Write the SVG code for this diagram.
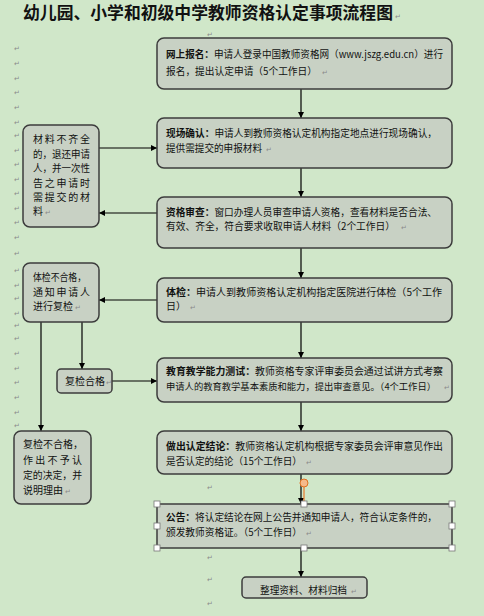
<svg xmlns="http://www.w3.org/2000/svg" width="484" height="616" viewBox="0 0 484 616">
<defs>
<marker id="arr" viewBox="0 0 10 10" refX="10" refY="5" markerWidth="6" markerHeight="6" markerUnits="userSpaceOnUse" orient="auto"><path d="M0,0 L10,5 L0,10 z" fill="#000"/></marker>
<style>
.box{fill:#C8D1C4;stroke:#3c3c3c;stroke-width:1.5}
.t{font-family:"Noto Sans CJK SC","Liberation Sans",sans-serif;font-size:10px;fill:#111}
.b{font-weight:bold}
.pm{font-family:"DejaVu Sans",sans-serif;font-size:7px;fill:#8a8a8a}
.ln{stroke:#000;stroke-width:1.2;fill:none}
.h{fill:#fff;stroke:#777;stroke-width:0.8}
</style>
</defs>
<rect width="484" height="616" fill="#D0E7C9"/>
<text x="23" y="19" font-family="'Noto Sans CJK SC',sans-serif" font-size="16.5" font-weight="bold" fill="#111" textLength="370" lengthAdjust="spacingAndGlyphs">幼儿园、小学和初级中学教师资格认定事项流程图</text>
<text x="395" y="19" class="pm">↵</text>
<g id="margin-marks" class="pm">
<text x="14" y="51">↵</text><text x="14" y="66">↵</text><text x="14" y="81">↵</text><text x="14" y="95">↵</text><text x="14" y="110">↵</text><text x="14" y="125">↵</text><text x="14" y="138">↵</text><text x="14" y="153">↵</text><text x="14" y="167">↵</text><text x="14" y="182">↵</text><text x="14" y="196">↵</text><text x="14" y="211">↵</text><text x="14" y="225">↵</text><text x="14" y="240">↵</text><text x="14" y="256">↵</text><text x="14" y="273">↵</text><text x="14" y="288">↵</text><text x="14" y="301">↵</text><text x="14" y="316">↵</text><text x="14" y="328">↵</text><text x="14" y="341">↵</text><text x="14" y="356">↵</text><text x="14" y="371">↵</text><text x="14" y="385">↵</text><text x="14" y="400">↵</text><text x="14" y="415">↵</text><text x="14" y="428">↵</text><text x="14" y="443">↵</text>
<text x="207" y="37">↵</text><text x="207" y="490">↵</text><text x="207" y="560">↵</text><text x="207" y="582">↵</text><text x="207" y="606">↵</text>
</g>
<g id="connectors">
<line class="ln" x1="301" y1="89" x2="301" y2="118" marker-end="url(#arr)"/>
<line class="ln" x1="301" y1="168" x2="301" y2="197" marker-end="url(#arr)"/>
<line class="ln" x1="301" y1="248" x2="301" y2="278" marker-end="url(#arr)"/>
<line class="ln" x1="301" y1="322" x2="301" y2="358" marker-end="url(#arr)"/>
<line class="ln" x1="301" y1="402" x2="301" y2="431" marker-end="url(#arr)"/>
<line class="ln" x1="301" y1="474" x2="301" y2="504" marker-end="url(#arr)"/>
<line class="ln" x1="301" y1="548" x2="301" y2="577" marker-end="url(#arr)"/>
<line class="ln" x1="99" y1="148" x2="157" y2="148" marker-end="url(#arr)"/>
<line class="ln" x1="157" y1="213" x2="99" y2="213" marker-end="url(#arr)"/>
<line class="ln" x1="157" y1="300" x2="99" y2="300" marker-end="url(#arr)"/>
<line class="ln" x1="82" y1="322" x2="82" y2="369" marker-end="url(#arr)"/>
<line class="ln" x1="112" y1="381" x2="157" y2="381" marker-end="url(#arr)"/>
<line class="ln" x1="41" y1="322" x2="41" y2="431" marker-end="url(#arr)"/>
</g>
<g id="n1">
<rect class="box" x="157" y="38" width="295" height="51" rx="7"/>
<text class="t" x="166" y="58" textLength="277" lengthAdjust="spacingAndGlyphs"><tspan class="b">网上报名：</tspan>申请人登录中国教师资格网（www.jszg.edu.cn）进行</text>
<text class="t" x="166" y="75" textLength="151" lengthAdjust="spacingAndGlyphs">报名，提出认定申请（5个工作日）</text>
<text class="pm" x="322" y="75">↵</text>
</g>
<g id="n2">
<rect class="box" x="157" y="118" width="295" height="50" rx="7"/>
<text class="t" x="166" y="137" textLength="271" lengthAdjust="spacingAndGlyphs"><tspan class="b">现场确认：</tspan>申请人到教师资格认定机构指定地点进行现场确认，</text>
<text class="t" x="166" y="152" textLength="96" lengthAdjust="spacingAndGlyphs">提供需提交的申报材料</text>
<text class="pm" x="266" y="152">↵</text>
</g>
<g id="n3">
<rect class="box" x="157" y="197" width="295" height="51" rx="7"/>
<text class="t" x="166" y="216" textLength="271" lengthAdjust="spacingAndGlyphs"><tspan class="b">资格审查：</tspan>窗口办理人员审查申请人资格，查看材料是否合法、</text>
<text class="t" x="166" y="230" textLength="229" lengthAdjust="spacingAndGlyphs">有效、齐全，符合要求收取申请人材料（2个工作日）</text>
<text class="pm" x="401" y="230">↵</text>
</g>
<g id="n4">
<rect class="box" x="157" y="278" width="295" height="44" rx="7"/>
<text class="t" x="166" y="296" textLength="276" lengthAdjust="spacingAndGlyphs"><tspan class="b">体检：</tspan>申请人到教师资格认定机构指定医院进行体检（5个工作</text>
<text class="t" x="166" y="310">日）</text>
<text class="pm" x="190" y="310">↵</text>
</g>
<g id="n5">
<rect class="box" x="157" y="358" width="295" height="44" rx="7"/>
<text class="t" x="166" y="375" textLength="277" lengthAdjust="spacingAndGlyphs"><tspan class="b">教育教学能力测试：</tspan>教师资格专家评审委员会通过试讲方式考察</text>
<text class="t" x="166" y="390" font-size="9.2" textLength="270" lengthAdjust="spacingAndGlyphs" style="font-size:9.2px">申请人的教育教学基本素质和能力，提出审查意见。（4个工作日）</text>
<text class="pm" x="444" y="390">↵</text>
</g>
<g id="n6">
<rect class="box" x="157" y="431" width="295" height="43" rx="7"/>
<text class="t" x="166" y="450" textLength="277" lengthAdjust="spacingAndGlyphs"><tspan class="b">做出认定结论：</tspan>教师资格认定机构根据专家委员会评审意见作出</text>
<text class="t" x="166" y="465" textLength="136" lengthAdjust="spacingAndGlyphs">是否认定的结论（15个工作日）</text>
<text class="pm" x="306" y="465">↵</text>
</g>
<g id="n7">
<rect class="box" x="157" y="504" width="295" height="44" rx="3"/>
<text class="t" x="166" y="521" textLength="271" lengthAdjust="spacingAndGlyphs"><tspan class="b">公告：</tspan>将认定结论在网上公告并通知申请人，符合认定条件的，</text>
<text class="t" x="166" y="536" textLength="136" lengthAdjust="spacingAndGlyphs">颁发教师资格证。（5个工作日）</text>
<text class="pm" x="306" y="536">↵</text>
<line x1="304" y1="487" x2="304" y2="501" stroke="#E8782A" stroke-width="1.2"/>
<circle cx="304" cy="483" r="4" fill="#F6B98A" stroke="#E07020" stroke-width="1"/>
<rect class="h" x="154" y="501" width="6" height="6"/><rect class="h" x="301" y="501" width="6" height="6"/><rect class="h" x="449" y="501" width="6" height="6"/>
<rect class="h" x="154" y="523" width="6" height="6"/><rect class="h" x="449" y="523" width="6" height="6"/>
<rect class="h" x="154" y="545" width="6" height="6"/><rect class="h" x="301" y="545" width="6" height="6"/><rect class="h" x="449" y="545" width="6" height="6"/>
</g>
<g id="n8">
<rect class="box" x="242" y="577" width="125" height="21" rx="4"/>
<text class="t" x="260" y="594" textLength="87" lengthAdjust="spacingAndGlyphs">整理资料、材料归档</text>
<text class="pm" x="351" y="594">↵</text>
</g>
<g id="nA">
<rect class="box" x="23" y="125" width="76" height="102" rx="7"/>
<text class="t" x="33" y="143" textLength="57" lengthAdjust="spacing">材料不齐全</text>
<text class="t" x="33" y="158" textLength="57" lengthAdjust="spacingAndGlyphs">的，退还申请</text>
<text class="t" x="33" y="172" textLength="57" lengthAdjust="spacingAndGlyphs">人，并一次性</text>
<text class="t" x="33" y="187" textLength="57" lengthAdjust="spacing">告之申请时</text>
<text class="t" x="33" y="201" textLength="57" lengthAdjust="spacing">需提交的材</text>
<text class="t" x="33" y="215">料</text>
<text class="pm" x="45" y="215">↵</text>
</g>
<g id="nB">
<rect class="box" x="23" y="263" width="76" height="59" rx="7"/>
<text class="t" x="33" y="281" textLength="53" lengthAdjust="spacingAndGlyphs">体检不合格，</text>
<text class="t" x="33" y="296" textLength="57" lengthAdjust="spacing">通知申请人</text>
<text class="t" x="33" y="310">进行复检</text>
<text class="pm" x="75" y="310">↵</text>
</g>
<g id="nR">
<rect class="box" x="57" y="369" width="55" height="24" rx="4"/>
<text class="t" x="65" y="385">复检合格</text>
<text class="pm" x="106" y="385">↵</text>
</g>
<g id="nC">
<rect class="box" x="14" y="431" width="77" height="73" rx="7"/>
<text class="t" x="23" y="448" textLength="60" lengthAdjust="spacingAndGlyphs">复检不合格，</text>
<text class="t" x="23" y="464" textLength="59" lengthAdjust="spacing">作出不予认</text>
<text class="t" x="23" y="479" textLength="59" lengthAdjust="spacingAndGlyphs">定的决定，并</text>
<text class="t" x="23" y="494">说明理由</text>
<text class="pm" x="65" y="494">↵</text>
</g>
</svg>
